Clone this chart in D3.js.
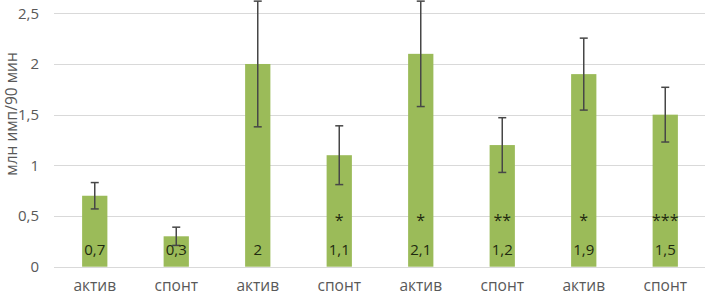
<!DOCTYPE html>
<html>
<head>
<meta charset="utf-8">
<script src="https://cdn.jsdelivr.net/npm/d3@7"></script>
<style>
  body { margin: 0; background: #fff; }
  svg { display: block; font-family: "Open Sans", "DejaVu Sans", sans-serif; }
</style>
</head>
<body>
<div id="content"></div>
<script>
// data
const categories = ["актив", "спонт", "актив", "спонт", "актив", "спонт", "актив", "спонт"];
const values = [0.7, 0.3, 2, 1.1, 2.1, 1.2, 1.9, 1.5];
const errors = [0.13, 0.09, 0.62, 0.29, 0.52, 0.27, 0.355, 0.27];
const valueLabels = ["0,7", "0,3", "2", "1,1", "2,1", "1,2", "1,9", "1,5"];
const stars = ["", "", "", "*", "*", "**", "*", "***"];
const yTicks = [0, 0.5, 1, 1.5, 2, 2.5];
const yTickLabels = ["0", "0,5", "1", "1,5", "2", "2,5"];

const width = 705, height = 295;
const margin = { top: 13.3, right: -1, bottom: 28.3, left: 54 };

const svg = d3.select("#content")
  .append("svg")
  .attr("width", width)
  .attr("height", height);

const idx = categories.map((d, i) => i);

const x = d3.scaleBand()
  .domain(idx)
  .range([margin.left, width - margin.right])
  .paddingInner(0.69)
  .paddingOuter(0.345);

const y = d3.scaleLinear()
  .domain([0, 2.5])
  .range([height - margin.bottom, margin.top]);

// gridlines
svg.append("g")
  .selectAll("line")
  .data(yTicks)
  .join("line")
  .attr("x1", margin.left)
  .attr("x2", width)
  .attr("y1", d => Math.round(y(d)) + 0.5)
  .attr("y2", d => Math.round(y(d)) + 0.5)
  .attr("stroke", "#d9d9d9")
  .attr("stroke-width", 1);

// y tick labels
svg.append("g")
  .selectAll("text")
  .data(yTicks)
  .join("text")
  .attr("x", 39)
  .attr("y", d => y(d))
  .attr("dy", "0.35em")
  .attr("text-anchor", "end")
  .attr("font-size", 15)
  .attr("fill", "#595959")
  .text((d, i) => yTickLabels[i]);

// y axis title
svg.append("text")
  .attr("transform", `translate(17,${114}) rotate(-90)`)
  .attr("text-anchor", "middle")
  .attr("font-size", 15.5)
  .attr("fill", "#595959")
  .text("млн имп/90 мин");

// bars
svg.append("g")
  .selectAll("rect")
  .data(idx)
  .join("rect")
  .attr("x", i => x(i))
  .attr("y", i => y(values[i]))
  .attr("width", x.bandwidth())
  .attr("height", i => y(0) - y(values[i]))
  .attr("fill", "#9bbb59");

// error bars
const eb = svg.append("g")
  .attr("stroke", "#474747")
  .attr("stroke-width", 1.5);

idx.forEach(i => {
  const cx = x(i) + x.bandwidth() / 2;
  const hi = y(values[i] + errors[i]);
  const lo = y(values[i] - errors[i]);
  eb.append("line").attr("x1", cx).attr("x2", cx).attr("y1", hi).attr("y2", lo);
  eb.append("line").attr("x1", cx - 4).attr("x2", cx + 4).attr("y1", hi).attr("y2", hi);
  eb.append("line").attr("x1", cx - 4).attr("x2", cx + 4).attr("y1", lo).attr("y2", lo);
});

// value labels inside bars
svg.append("g")
  .selectAll("text")
  .data(idx)
  .join("text")
  .attr("x", i => x(i) + x.bandwidth() / 2)
  .attr("y", y(0.17))
  .attr("dy", "0.35em")
  .attr("text-anchor", "middle")
  .attr("font-size", 15)
  .attr("fill", "#1f2a10")
  .text(i => valueLabels[i]);

// significance stars
svg.append("g")
  .selectAll("text")
  .data(idx.filter(i => stars[i]))
  .join("text")
  .attr("x", i => x(i) + x.bandwidth() / 2)
  .attr("y", y(0.45))
  .attr("dy", "0.3em")
  .attr("text-anchor", "middle")
  .attr("font-size", 16)
  .attr("fill", "#1f2a10")
  .text(i => stars[i]);

// x labels
svg.append("g")
  .selectAll("text")
  .data(idx)
  .join("text")
  .attr("x", i => x(i) + x.bandwidth() / 2)
  .attr("y", 291)
  .attr("text-anchor", "middle")
  .attr("font-size", 15.5)
  .attr("fill", "#595959")
  .text(i => categories[i]);
</script>
</body>
</html>
